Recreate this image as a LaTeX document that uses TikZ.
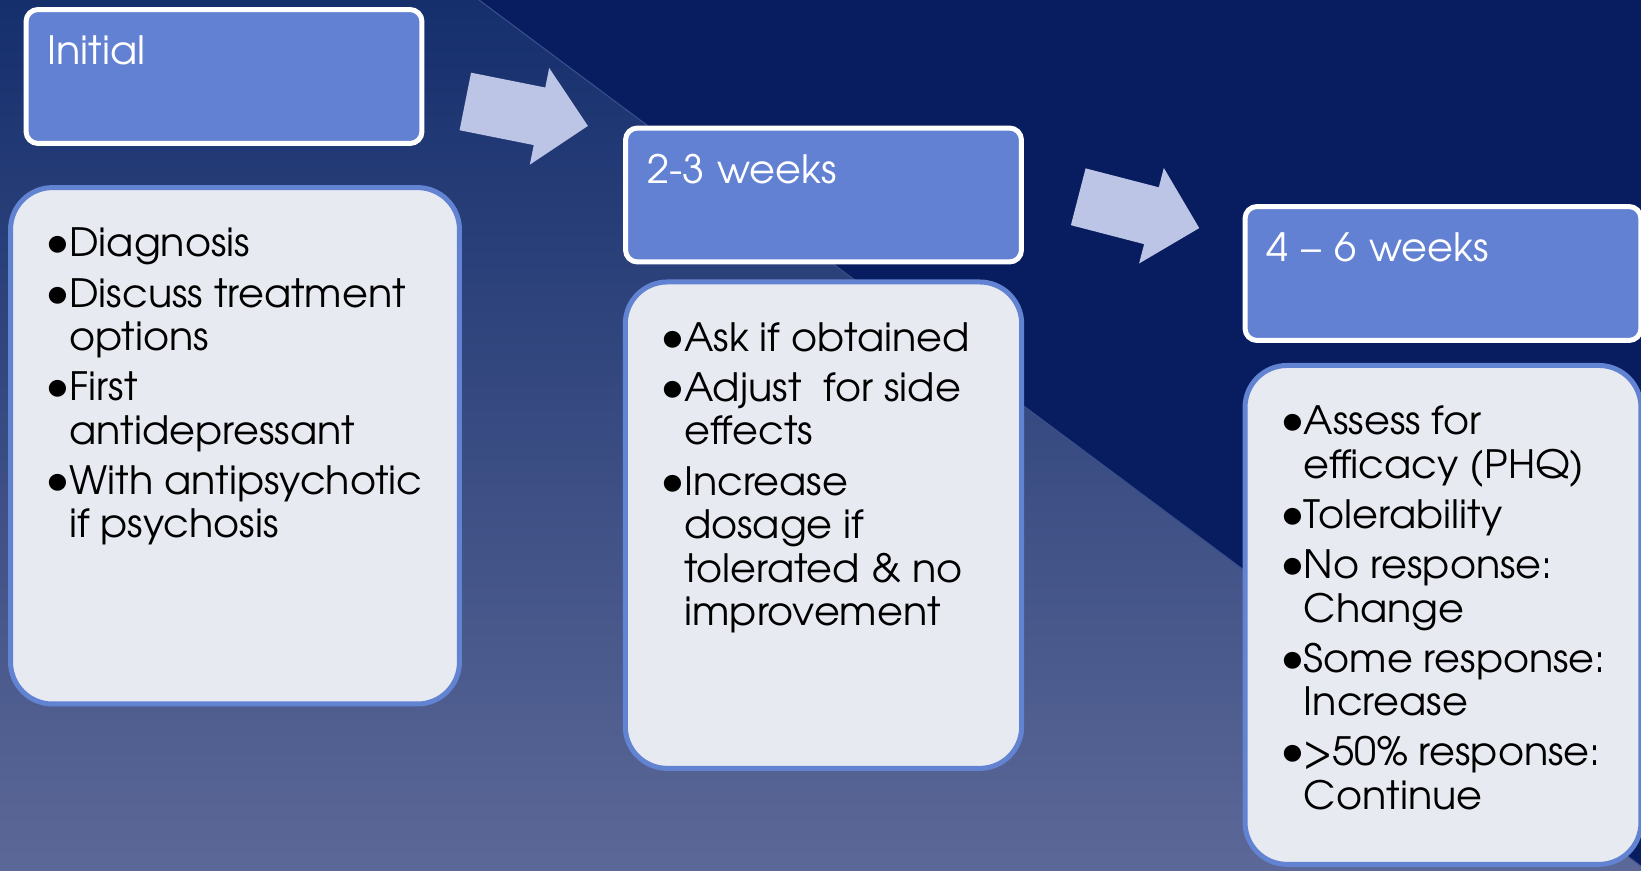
\documentclass[tikz,border=0pt]{standalone}
\usepackage{fontspec}
\setmainfont[FakeStretch=1.02]{TeX Gyre Adventor}
\usepackage{xcolor}
\usetikzlibrary{shapes.arrows, positioning}
\definecolor{bgtop}{HTML}{152F6D}
\definecolor{bgmid}{HTML}{1D3574}
\definecolor{bgbot}{HTML}{5C6897}
\definecolor{bgdark}{HTML}{071D5F}
\definecolor{bgline}{HTML}{3A4F8E}
\definecolor{headblue}{HTML}{6381D3}
\definecolor{bodyfill}{HTML}{E8EAF2}
\definecolor{bodyline}{HTML}{6282D2}
\definecolor{arrowfill}{HTML}{BDC5E6}
\newcommand{\mainsize}{\fontsize{22.2}{24.8}\selectfont}
\newcommand{\bul}{\makebox[0.38cm][l]{\kern-0.09cm\scalebox{1.2}{\textbullet}}}
\newcommand{\hang}{\hspace*{0.38cm}}
\tikzstyle{header} = [rectangle, rounded corners=0.24cm, draw=white, line width=0.1cm, fill=headblue, text=white, text width=7.06cm, align=left, inner xsep=0.43cm, inner ysep=0pt, text height=1.11cm, text depth=1.57cm, font=\mainsize]
\tikzstyle{body} = [rectangle, rounded corners=0.84cm, draw=bodyline, line width=0.1cm, fill=bodyfill]
\tikzstyle{points} = [anchor=north west, inner sep=0pt, align=left, text=black, font=\mainsize]
\tikzstyle{bigarrow} = [single arrow, fill=arrowfill, anchor=tail, minimum height=2.5cm, inner xsep=0pt, inner ysep=0.58cm, single arrow head extend=0.4cm]

\begin{document}
\begin{tikzpicture}[x=0.02cm, y=-0.02cm]
        \useasboundingbox (0,0) rectangle (1641,871);
        \shade[top color=bgtop, middle color=bgmid, bottom color=bgbot] (0,0) rectangle (1641,871);
        \fill[bgdark] (479,0) -- (1641,0) -- (1641,866) -- cycle;
        \draw[bgline, line width=0.6pt] (479,0) -- (1641,866);

        \node (initial) [header] at (224,76.5) {Initial};
        \node (weeks23) [header] at (823.5,195) {2-3 weeks};
        \node (weeks46) [header] at (1443,273.5) {4 – 6 weeks};

        \node (initbody) [body, minimum width=8.98cm, minimum height=10.33cm] at (235,445.8) {};
        \node (body23) [body, below=0.3cm of weeks23, minimum width=7.93cm, minimum height=9.73cm] {};
        \node (body46) [body, below=0.4cm of weeks46, minimum width=7.92cm, minimum height=9.98cm] {};

        \node (initlist) [points] at ([shift={(42,41)}]initbody.north west) {\strut\bul Diagnosis\\[0.13cm]
            \bul Discuss treatment\\ \hang options\\[0.13cm]
            \bul First\\ \hang antidepressant\\[0.13cm]
            \bul With antipsychotic\\ \hang if psychosis};
        \node (list23) [points] at ([shift={(42,41)}]body23.north west) {\strut\bul Ask if obtained\\[0.13cm]
            \bul Adjust\ \ for side\\ \hang effects\\[0.13cm]
            \bul Increase\\ \hang dosage if\\ \hang tolerated \& no\\ \hang improvement};
        \node (list46) [points] at ([shift={(42,41)}]body46.north west) {\strut\bul Assess for\\ \hang efficacy (PHQ)\\[0.13cm]
            \bul Tolerability\\[0.13cm]
            \bul No response:\\ \hang Change\\[0.13cm]
            \bul Some response:\\ \hang Increase\\[0.13cm]
            \bul >50\% response:\\ \hang Continue};

        % block arrows between the stages
        \node (step1) [bigarrow, rotate=-11.3] at (465,101.4) {};
        \node (step2) [bigarrow, rotate=-14.5] at (1077.9,196.7) {};
\end{tikzpicture}
\end{document}
